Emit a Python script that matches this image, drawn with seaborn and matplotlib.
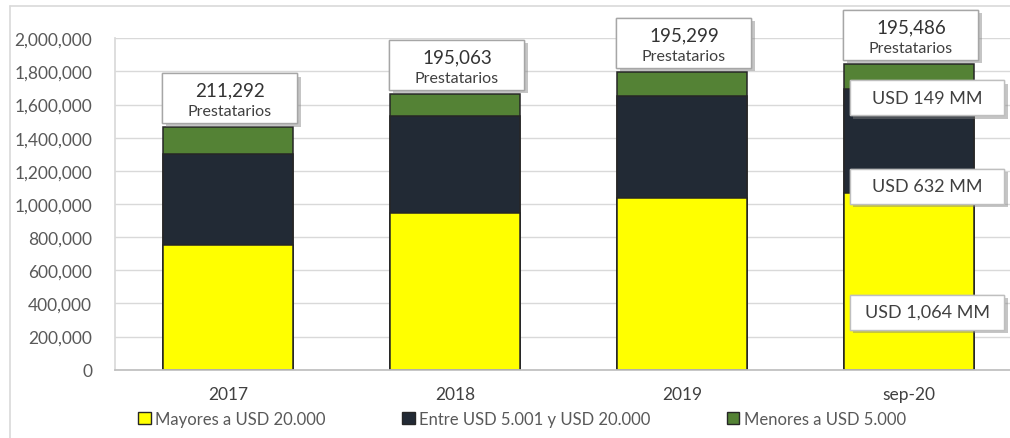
import matplotlib
matplotlib.use("Agg")
import matplotlib.pyplot as plt
import matplotlib.patheffects as pe
from matplotlib.patches import Rectangle, Patch
from matplotlib.lines import Line2D
from matplotlib.ticker import FuncFormatter, MultipleLocator
import pandas as pd
import seaborn as sns

# --- data (USD thousands per segment, borrowers per period) ---
periods = ["2017", "2018", "2019", "sep-20"]
mayores = [752000, 944000, 1038000, 1064000]
entre = [550000, 589000, 616000, 632000]
menores = [161000, 131000, 144000, 149000]
prestatarios = [211292, 195063, 195299, 195486]
series_names = ["Mayores a USD 20.000", "Entre USD 5.001 y USD 20.000", "Menores a USD 5.000"]

YELLOW, DARK, GREEN = "#FFFF00", "#222A35", "#548235"
EDGE = "#262626"
GRID = "#D9D9D9"
TXT = "#595959"

sns.set_theme(style="white")
plt.rcParams["font.family"] = ["Lato", "DejaVu Sans"]

fig = plt.figure(figsize=(10.10, 4.39), dpi=100)
W, H = 1010, 439
ax = fig.add_axes([114.5 / W, 1 - 370.7 / H, 908 / W, 331.4 / H])

df = pd.DataFrame({"period": periods, "mayores": mayores, "entre": entre, "menores": menores})
df["nivel2"] = df["mayores"] + df["entre"]
df["total"] = df["nivel2"] + df["menores"]

# stacked bars: draw cumulative heights from the tallest down
for col, color in [("total", GREEN), ("nivel2", DARK), ("mayores", YELLOW)]:
    sns.barplot(data=df, x="period", y=col, color=color, saturation=1, width=0.575,
                edgecolor=EDGE, linewidth=1.1, ax=ax, zorder=2)

ax.set_xlim(-0.5, 3.5)
ax.set_ylim(0, 2_000_000)
ax.yaxis.set_major_locator(MultipleLocator(200_000))
ax.yaxis.set_major_formatter(FuncFormatter(lambda v, p: f"{v:,.0f}"))
ax.yaxis.grid(True, color=GRID, lw=1.0, zorder=0)
ax.set_axisbelow(True)
ax.set_xlabel("")
ax.set_ylabel("")
for s in ["top", "right"]:
    ax.spines[s].set_visible(False)
ax.spines["left"].set_color(GRID)
ax.spines["bottom"].set_color("#BFBFBF")
ax.tick_params(axis="y", length=0, pad=16, labelsize=12.5, labelcolor=TXT)
ax.tick_params(axis="x", length=0, pad=12, labelsize=12.5, labelcolor="#404040")

fig.canvas.draw()
px = 2_000_000 / ax.get_window_extent().height  # data units per pixel

shadow = [pe.withSimplePatchShadow(offset=(2.5, -2.5), shadow_rgbFace="#7F7F7F", alpha=0.45), pe.Normal()]

# borrower count boxes above each bar
box_w, box_h, gap = 0.595, 50 * px, 4 * px
for i, (tot, n) in enumerate(zip(df["total"], prestatarios)):
    y0 = tot + gap
    r = Rectangle((i - box_w / 2 + 0.008, y0), box_w, box_h, facecolor="white",
                  edgecolor="#A6A6A6", lw=1, zorder=5, clip_on=False)
    r.set_path_effects(shadow)
    ax.add_patch(r)
    ax.text(i + 0.008, y0 + box_h * 0.66, f"{n:,}", ha="center", va="center",
            fontsize=13.5, color="#333333", zorder=6, clip_on=False)
    ax.text(i + 0.008, y0 + box_h * 0.24, "Prestatarios", ha="center", va="center",
            fontsize=11.5, color="#404040", zorder=6, clip_on=False)

# amount boxes on the latest bar
last = len(periods) - 1
amounts = [mayores[last], entre[last], menores[last]]
label_y = [0.174, 0.553, 0.820]  # axes-fraction centres of the boxes
trans = matplotlib.transforms.blended_transform_factory(ax.transData, ax.transAxes)
ah = 35 / ax.get_window_extent().height
aw = 0.68
for val, yc in zip(amounts, label_y):
    r = Rectangle((last + 0.08 - aw / 2, yc - ah / 2), aw, ah, transform=trans,
                  facecolor="white", edgecolor="#BFBFBF", lw=1, zorder=5, clip_on=False)
    r.set_path_effects(shadow)
    ax.add_patch(r)
    ax.text(last + 0.08, yc, f"USD {val / 1000:,.0f} MM", transform=trans, ha="center",
            va="center", fontsize=13, color="#404040", zorder=6, clip_on=False)

handles = [Patch(facecolor=c, edgecolor=EDGE, lw=1) for c in (YELLOW, DARK, GREEN)]
fig.legend(handles, series_names, loc="center", bbox_to_anchor=(522 / W, 1 - 420 / H),
           ncol=3, frameon=False, fontsize=12, labelcolor=TXT, handlelength=0.75,
           handleheight=0.75, handletextpad=0.25, columnspacing=4.6)

# outer chart-area border
fig.add_artist(Line2D([10 / W, 10 / W], [-0.1, 1 - 7 / H], transform=fig.transFigure, color=GRID, lw=1.2))
fig.add_artist(Line2D([10 / W, 1.1], [1 - 7 / H, 1 - 7 / H], transform=fig.transFigure, color=GRID, lw=1.2))

fig.savefig("out.png", dpi=100, facecolor="white")
